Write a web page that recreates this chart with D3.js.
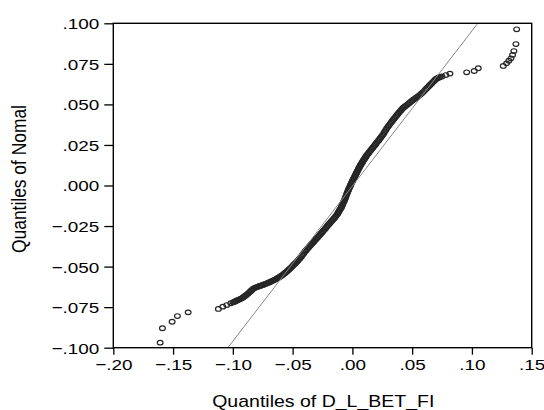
<!DOCTYPE html>
<html>
<head>
<meta charset="utf-8">
<script src="https://cdn.jsdelivr.net/npm/d3@7"></script>
<style>
  body { margin: 0; background: #fff; }
  svg { display: block; }
  text { font-family: "Liberation Sans", Arial, sans-serif; fill: #000; }
</style>
</head>
<body>
<svg class="chart"></svg>
<script>
// quantiles of D_L_BET_FI (x) against quantiles of normal (y), sorted
var lowTailX = [-0.1608, -0.1589, -0.1508, -0.1464, -0.1374, -0.1121, -0.1084, -0.1051, -0.1017];
var lowTailY = [-0.0969, -0.0880, -0.0840, -0.0805, -0.0782, -0.0761, -0.0747, -0.0737, -0.0726];

var bodyX = [
  -0.0998, -0.0990, -0.0982, -0.0974, -0.0965, -0.0957, -0.0948, -0.0940, -0.0931, -0.0923,
  -0.0915, -0.0907, -0.0898, -0.0890, -0.0881, -0.0873, -0.0864, -0.0856, -0.0848, -0.0840,
  -0.0831, -0.0823, -0.0815, -0.0807, -0.0798, -0.0790, -0.0781, -0.0773, -0.0764, -0.0756,
  -0.0748, -0.0740, -0.0731, -0.0723, -0.0714, -0.0706, -0.0697, -0.0689, -0.0681, -0.0673,
  -0.0664, -0.0656, -0.0647, -0.0639, -0.0630, -0.0622, -0.0614, -0.0606, -0.0597, -0.0589,
  -0.0580, -0.0572, -0.0563, -0.0555, -0.0547, -0.0539, -0.0530, -0.0522, -0.0513, -0.0505,
  -0.0496, -0.0488, -0.0480, -0.0472, -0.0463, -0.0455, -0.0447, -0.0439, -0.0430, -0.0422,
  -0.0413, -0.0405, -0.0396, -0.0388, -0.0380, -0.0372, -0.0363, -0.0355, -0.0346, -0.0338,
  -0.0329, -0.0321, -0.0313, -0.0305, -0.0296, -0.0288, -0.0279, -0.0271, -0.0262, -0.0254,
  -0.0246, -0.0238, -0.0229, -0.0221, -0.0212, -0.0204, -0.0195, -0.0187, -0.0179, -0.0171,
  -0.0162, -0.0154, -0.0145, -0.0137, -0.0128, -0.0123, -0.0118, -0.0113, -0.0108, -0.0102,
  -0.0095, -0.0091, -0.0087, -0.0083, -0.0079, -0.0075, -0.0070, -0.0066, -0.0062, -0.0058,
  -0.0054, -0.0050, -0.0046, -0.0042, -0.0037, -0.0033, -0.0029, -0.0025, -0.0020, -0.0016,
  -0.0012, -0.0008, -0.0004, 0.0001, 0.0005, 0.0009, 0.0013, 0.0017, 0.0021, 0.0026,
  0.0030, 0.0034, 0.0038, 0.0042, 0.0046, 0.0051, 0.0055, 0.0060, 0.0064, 0.0068,
  0.0072, 0.0077, 0.0081, 0.0085, 0.0089, 0.0095, 0.0100, 0.0106, 0.0111, 0.0117,
  0.0122, 0.0131, 0.0139, 0.0147, 0.0155, 0.0164, 0.0172, 0.0181, 0.0189, 0.0197,
  0.0205, 0.0214, 0.0222, 0.0231, 0.0239, 0.0248, 0.0256, 0.0264, 0.0272, 0.0281,
  0.0289, 0.0298, 0.0306, 0.0315, 0.0323, 0.0332, 0.0340, 0.0348, 0.0356, 0.0365,
  0.0373, 0.0382, 0.0390, 0.0399, 0.0407, 0.0415, 0.0423, 0.0434, 0.0444, 0.0455,
  0.0465, 0.0476, 0.0486, 0.0497, 0.0507, 0.0518, 0.0528, 0.0539, 0.0549, 0.0560,
  0.0570, 0.0581, 0.0591, 0.0602, 0.0612, 0.0622, 0.0632, 0.0641, 0.0649, 0.0658,
  0.0666, 0.0675, 0.0683, 0.0691, 0.0699, 0.0708, 0.0716, 0.0725, 0.0733
];
var bodyY = [
  -0.0720, -0.0718, -0.0715, -0.0712, -0.0709, -0.0706, -0.0703, -0.0700, -0.0697, -0.0694,
  -0.0690, -0.0686, -0.0681, -0.0676, -0.0671, -0.0666, -0.0660, -0.0655, -0.0649, -0.0644,
  -0.0638, -0.0634, -0.0631, -0.0628, -0.0626, -0.0623, -0.0621, -0.0619, -0.0617, -0.0615,
  -0.0613, -0.0610, -0.0608, -0.0605, -0.0603, -0.0600, -0.0598, -0.0595, -0.0592, -0.0589,
  -0.0586, -0.0583, -0.0580, -0.0577, -0.0573, -0.0570, -0.0566, -0.0562, -0.0558, -0.0554,
  -0.0549, -0.0544, -0.0539, -0.0534, -0.0529, -0.0524, -0.0518, -0.0512, -0.0506, -0.0500,
  -0.0493, -0.0487, -0.0481, -0.0475, -0.0469, -0.0462, -0.0455, -0.0448, -0.0441, -0.0433,
  -0.0424, -0.0416, -0.0407, -0.0400, -0.0393, -0.0386, -0.0379, -0.0372, -0.0365, -0.0358,
  -0.0351, -0.0345, -0.0338, -0.0331, -0.0324, -0.0317, -0.0310, -0.0303, -0.0296, -0.0289,
  -0.0282, -0.0275, -0.0268, -0.0260, -0.0252, -0.0245, -0.0237, -0.0231, -0.0224, -0.0217,
  -0.0210, -0.0203, -0.0195, -0.0187, -0.0179, -0.0173, -0.0166, -0.0160, -0.0153, -0.0146,
  -0.0139, -0.0132, -0.0125, -0.0118, -0.0111, -0.0104, -0.0097, -0.0090, -0.0083, -0.0075,
  -0.0067, -0.0059, -0.0051, -0.0043, -0.0034, -0.0027, -0.0020, -0.0013, -0.0006, 0.0002,
  0.0009, 0.0015, 0.0021, 0.0028, 0.0034, 0.0040, 0.0046, 0.0052, 0.0058, 0.0065,
  0.0071, 0.0077, 0.0083, 0.0089, 0.0095, 0.0102, 0.0108, 0.0114, 0.0120, 0.0125,
  0.0130, 0.0136, 0.0141, 0.0146, 0.0151, 0.0158, 0.0164, 0.0170, 0.0176, 0.0182,
  0.0188, 0.0196, 0.0204, 0.0212, 0.0219, 0.0227, 0.0235, 0.0243, 0.0250, 0.0258,
  0.0266, 0.0274, 0.0281, 0.0290, 0.0298, 0.0306, 0.0314, 0.0324, 0.0334, 0.0344,
  0.0354, 0.0363, 0.0371, 0.0380, 0.0388, 0.0396, 0.0404, 0.0412, 0.0419, 0.0427,
  0.0435, 0.0443, 0.0450, 0.0457, 0.0464, 0.0471, 0.0478, 0.0484, 0.0490, 0.0496,
  0.0502, 0.0509, 0.0515, 0.0521, 0.0527, 0.0533, 0.0538, 0.0544, 0.0549, 0.0556,
  0.0562, 0.0569, 0.0576, 0.0584, 0.0592, 0.0600, 0.0607, 0.0614, 0.0620, 0.0626,
  0.0632, 0.0639, 0.0645, 0.0651, 0.0657, 0.0660, 0.0663, 0.0666, 0.0669
];

var highTailX = [0.0749, 0.0782, 0.0816, 0.0956, 0.1019, 0.1053, 0.1262, 0.1290, 0.1309, 0.1326, 0.1340, 0.1351, 0.1368, 0.1374];
var highTailY = [0.0672, 0.0681, 0.0690, 0.0698, 0.0706, 0.0723, 0.0737, 0.0753, 0.0769, 0.0784, 0.0805, 0.0829, 0.0872, 0.0963];

// reference line end points
var refLineX = [-0.1042, 0.1049];
var refLineY = [-0.100, 0.100];

var xTicks = [-0.20, -0.15, -0.10, -0.05, 0.00, 0.05, 0.10, 0.15];
var yTicks = [-0.100, -0.075, -0.050, -0.025, 0.000, 0.025, 0.050, 0.075, 0.100];

const canvas = {width: 544, height: 410};
const plot = {left: 113.3, right: 531.7, top: 23.3, bottom: 347.7};
const stretch = 1.22; // text in the picture is wider than tall

const x = d3.scaleLinear().domain([-0.2, 0.15]).range([plot.left, plot.right]);
const y = d3.scaleLinear().domain([-0.1, 0.1]).range([plot.bottom, plot.top]);

function dropZero(fmt) {
    return function(d) { return d3.format(fmt)(d).replace("0.", "."); };
}

const svg = d3.select(".chart")
    .attr("width", canvas.width)
    .attr("height", canvas.height);

const sampleQ = lowTailX.concat(bodyX, highTailX);
const normalQ = lowTailY.concat(bodyY, highTailY);
const points = sampleQ.map((v, i) => ({sx: v, ny: normalQ[i]}));

svg.append("g")
    .selectAll("ellipse")
    .data(points)
    .enter().append("ellipse")
    .attr("cx", d => x(d.sx))
    .attr("cy", d => y(d.ny))
    .attr("rx", 2.9)
    .attr("ry", 2.3)
    .attr("fill", "none")
    .attr("stroke", "#262626")
    .attr("stroke-width", 1.2);

svg.append("line")
    .attr("x1", x(refLineX[0])).attr("y1", y(refLineY[0]))
    .attr("x2", x(refLineX[1])).attr("y2", y(refLineY[1]))
    .attr("stroke", "#888")
    .attr("stroke-width", 1);

// x axis
const xAxisG = svg.append("g")
    .attr("transform", "translate(0," + plot.bottom + ")")
    .call(d3.axisBottom(x).tickValues(xTicks).tickSize(7).tickSizeOuter(0)
        .tickFormat(dropZero(".2f")));
xAxisG.select(".domain").remove();
xAxisG.selectAll(".tick line").attr("stroke", "#000").attr("stroke-width", 1.3);
xAxisG.selectAll("text")
    .attr("y", 17)
    .attr("dy", "0.35em")
    .attr("transform", "scale(" + stretch + ",1)")
    .style("font-size", "15.5px");

// y axis
const yAxisG = svg.append("g")
    .attr("transform", "translate(" + plot.left + ",0)")
    .call(d3.axisLeft(y).tickValues(yTicks).tickSize(9).tickSizeOuter(0)
        .tickFormat(dropZero(".3f")));
yAxisG.select(".domain").remove();
yAxisG.selectAll(".tick line").attr("stroke", "#000").attr("stroke-width", 1.3);
yAxisG.selectAll("text")
    .attr("x", -14 / stretch)
    .attr("dy", "0.35em")
    .attr("transform", "scale(" + stretch + ",1)")
    .style("font-size", "15.5px");

// frame
svg.append("rect")
    .attr("x", plot.left).attr("y", plot.top)
    .attr("width", plot.right - plot.left)
    .attr("height", plot.bottom - plot.top)
    .attr("fill", "none")
    .attr("stroke", "#000")
    .attr("stroke-width", 1.4);

svg.append("text")
    .attr("transform", "translate(323.3,407) scale(" + stretch + ",1)")
    .style("text-anchor", "middle")
    .style("font-size", "16px")
    .text("Quantiles of D_L_BET_FI");

svg.append("text")
    .attr("transform", "translate(26,179) rotate(-90) scale(1.088," + stretch + ")")
    .style("text-anchor", "middle")
    .style("font-size", "16px")
    .text("Quantiles of Nomal");
</script>
</body>
</html>
